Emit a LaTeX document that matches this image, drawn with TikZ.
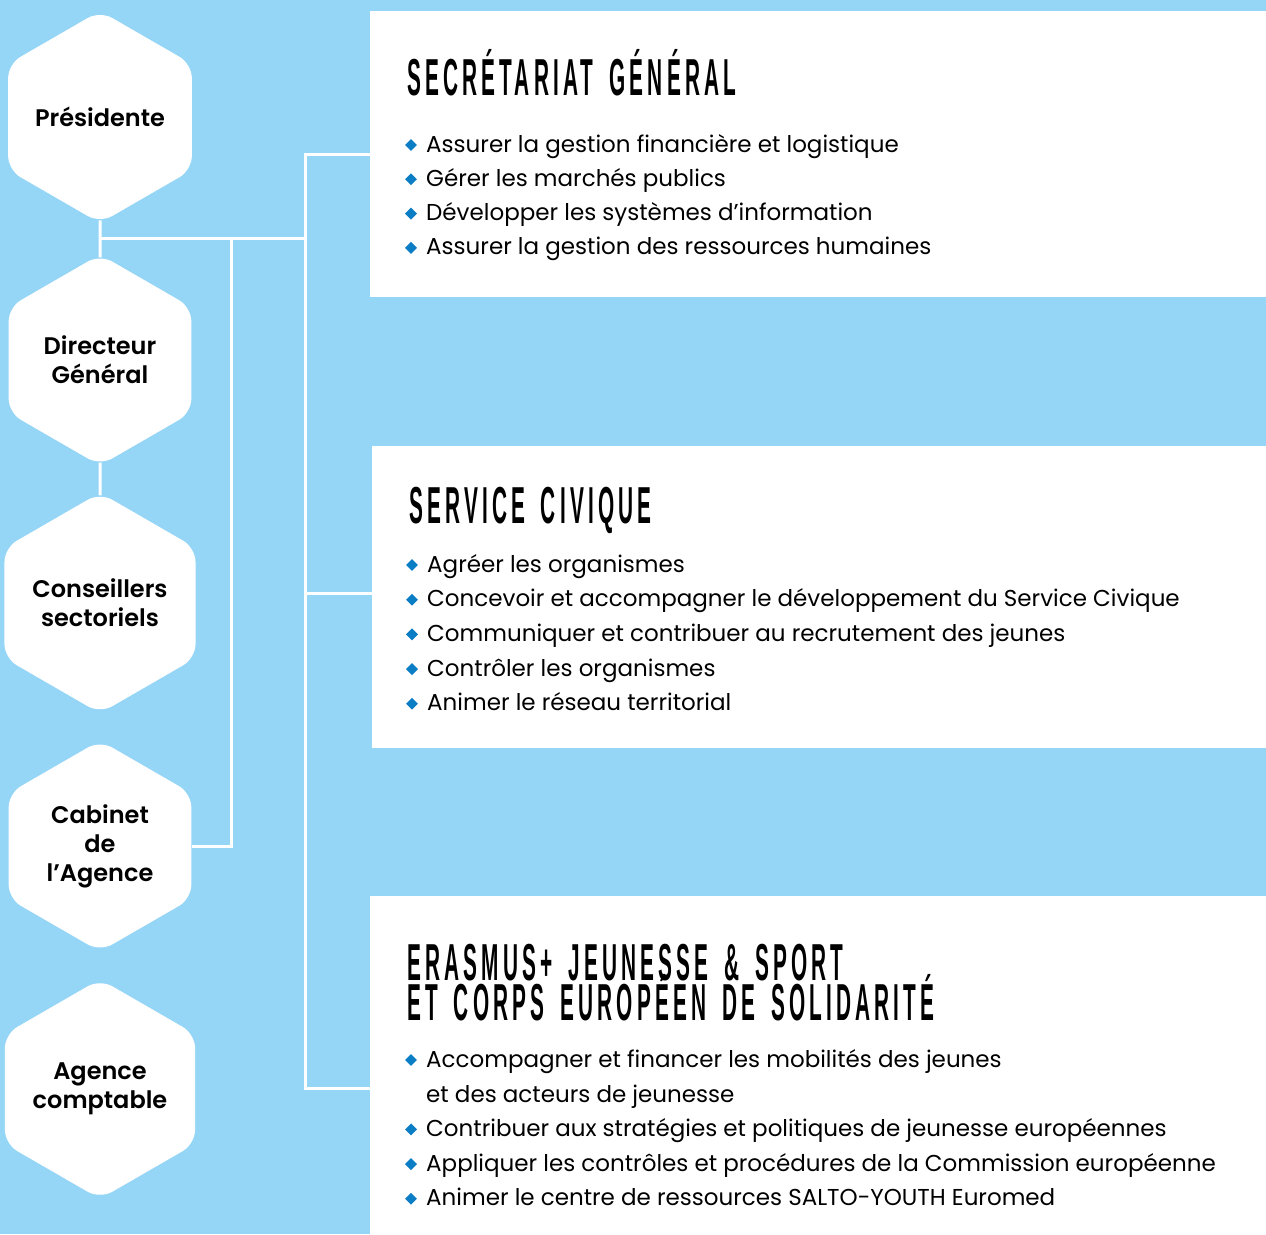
\documentclass[tikz,border=0pt]{standalone}
\usepackage{fontspec}
\setmainfont{Poppins}[BoldFont={Poppins SemiBold}]
\newfontfamily\policetitre[FakeStretch=0.4,LetterSpace=8,WordSpace=1.6]{Liberation Sans}
\usetikzlibrary{shapes.geometric,positioning}
\definecolor{ciel}{RGB}{149,213,246}
\definecolor{bleu}{RGB}{10,125,197}
\tikzset{
  hexa/.style={regular polygon, regular polygon sides=6, shape border rotate=30,
    minimum size=211pt, inner sep=0pt, fill=white, rounded corners=14pt,
    align=center, font=\bfseries\fontsize{24}{29}\selectfont},
  boite/.style={fill=white, anchor=north west, inner sep=0pt},
  lien/.style={white, line width=3pt},
  puce/.style={diamond, fill=bleu, minimum size=12pt, inner sep=0pt},
  ligne/.style={anchor=base west, inner sep=0pt, font=\fontsize{23}{34.5}\selectfont},
  titre/.style={anchor=base west, inner sep=0pt, align=left,
    font=\policetitre\bfseries\fontsize{52}{40}\selectfont}
}
\begin{document}
\lineskiplimit=-60pt
\begin{tikzpicture}[x=1pt,y=-1pt]
      \useasboundingbox (0,0) rectangle (1266,1234);
      \fill[ciel] (0,0) rectangle (1266,1234);
      % Hexagones de gauche
      \foreach \nom/\txt [count=\i] in {pres/Présidente, dg/Directeur\\Général,
          cons/Conseillers\\sectoriels, cab/Cabinet\\de\\l’Agence, ac/Agence\\comptable} {
        \node[hexa] (\nom) at (100,117+243*\i-243) {\txt};
      }
      % Cadres blancs
      \node[boite, minimum width=896pt, minimum height=286pt] (sg) at (370,11) {};
      \node[boite, minimum width=894pt, minimum height=302pt] (sc) at (372,446) {};
      \node[boite, minimum width=896pt, minimum height=338pt] (er) at (370,896) {};
      % Liaisons
      \coordinate (j1) at (100,238);
      \coordinate (j2) at (231,238);
      \coordinate (j3) at (305,238);
      \coordinate (b1) at (305,154);
      \coordinate (b2) at (305,593);
      \coordinate (b3) at (305,1088);
      \draw[lien, shorten <=-3pt, shorten >=-3pt] (pres.south) -- (dg.north);
      \draw[lien, shorten <=-3pt, shorten >=-3pt] (dg.south) -- (cons.north);
      \draw[lien] (j1) -- (j3);
      \draw[lien] (j2) |- (cab.east);
      \draw[lien] (sg.west |- b1) -- (b1) -- (b3) -- (er.west |- b3);
      \draw[lien] (b2) -- (sc.west |- b2);
      % Secrétariat général
      \node[titre] (sgt) at (407,95) {SECRÉTARIAT GÉNÉRAL};
      \foreach \t [count=\i] in {Assurer la gestion financière et logistique,
          Gérer les marchés publics, Développer les systèmes d’information,
          Assurer la gestion des ressources humaines} {
        \node[puce] (sgp\i) at (411,110.7+34.3*\i) {};
        \node[ligne] (sgl\i) at (426,117.7+34.3*\i) {\t};
      }
      % Service civique
      \node[titre] (sct) at (409,523) {SERVICE CIVIQUE};
      \foreach \t [count=\i] in {Agréer les organismes,
          Concevoir et accompagner le développement du Service Civique,
          Communiquer et contribuer au recrutement des jeunes,
          Contrôler les organismes, Animer le réseau territorial} {
        \node[puce] (scp\i) at (412,530.3+34.7*\i) {};
        \node[ligne] (scl\i) at (427,537.3+34.7*\i) {\t};
      }
      % Erasmus+
      \node[titre] (ert) at (407,1020) {ERASMUS+ JEUNESSE \& SPORT\\ET CORPS EUROPÉEN DE SOLIDARITÉ};
      \node[puce] (erp1) at (411,1060) {};
      \node[ligne, align=left] (erl1) at (426,1102) {Accompagner et financer les mobilités des jeunes\\et des acteurs de jeunesse};
      \foreach \t [count=\i from 2] in {Contribuer aux stratégies et politiques de jeunesse européennes,
          Appliquer les contrôles et procédures de la Commission européenne,
          Animer le centre de ressources SALTO-YOUTH Euromed} {
        \node[puce] (erp\i) at (411,1060+34.7*\i) {};
        \node[ligne] (erl\i) at (426,1067+34.7*\i) {\t};
      }
\end{tikzpicture}
\end{document}
